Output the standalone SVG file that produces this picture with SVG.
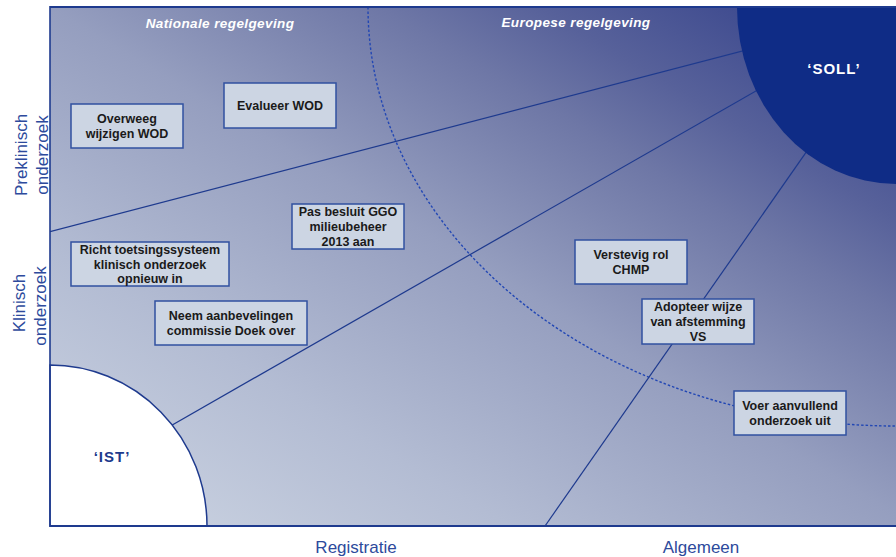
<svg xmlns="http://www.w3.org/2000/svg" width="896" height="557" viewBox="0 0 896 557">
  <defs>
    <linearGradient id="bg" gradientUnits="userSpaceOnUse" x1="-208" y1="348" x2="233" y2="-390">
      <stop offset="0" stop-color="#ccd4e2"/>
      <stop offset="0.251" stop-color="#b3bcd3"/>
      <stop offset="0.493" stop-color="#959ebf"/>
      <stop offset="0.691" stop-color="#6e77a6"/>
      <stop offset="0.787" stop-color="#57619a"/>
      <stop offset="1" stop-color="#2e3c88"/>
    </linearGradient>
    <clipPath id="plot"><rect x="50" y="7" width="846" height="519"/></clipPath>
  </defs>
  <style>
    .box rect { fill: #ccd5e3; stroke: #3050a0; stroke-width: 1.5; }
    .box text { font-family: "Liberation Sans", Arial, sans-serif; font-weight: bold; font-size: 12.5px; fill: #1a1a1a; text-anchor: middle; }
    .ray { stroke: #1e3a8e; stroke-width: 1.2; fill: none; }
    .dash { stroke: #2247b4; stroke-width: 1.4; stroke-dasharray: 2.5 2; fill: none; }
    .border { stroke: #1e3a8e; fill: none; }
    .head { font-family: "Liberation Sans", Arial, sans-serif; font-weight: bold; font-style: italic; font-size: 13.5px; fill: #ffffff; text-anchor: middle; letter-spacing: 0.4px; }
    .axis { font-family: "Liberation Sans", Arial, sans-serif; font-size: 17px; fill: #2d4a9c; text-anchor: middle; }
    .big { font-family: "Liberation Sans", Arial, sans-serif; font-weight: bold; font-size: 15px; text-anchor: middle; letter-spacing: 1px; }
  </style>

  <rect x="50" y="7" width="846" height="519" fill="url(#bg)"/>

  <g id="connectors" clip-path="url(#plot)">
    <path class="dash" d="M 368 7 A 528 419 0 0 0 896 426"/>
    <line class="ray" x1="50" y1="231.7" x2="770" y2="43.7"/>
    <line class="ray" x1="150" y1="437.7" x2="770" y2="83"/>
    <line class="ray" x1="545" y1="526" x2="820" y2="132.4"/>
  </g>

  <g id="soll">
    <path d="M 737 7 A 159 177 0 0 0 896 184 L 896 7 Z" fill="#0f2c86"/>
    <text class="big" x="834" y="74" fill="#ffffff">‘SOLL’</text>
  </g>

  <g id="ist">
    <path d="M 50 365 A 157 161 0 0 1 207 526 L 50 526 Z" fill="#ffffff" stroke="#1e3a8e" stroke-width="1.5"/>
    <text class="big" x="112" y="462" fill="#1c3a8c">‘IST’</text>
  </g>

  <g id="n1" class="box">
    <rect x="71" y="104" width="112" height="44"/>
    <text x="127" y="123.1">Overweeg</text>
    <text x="127" y="137.9">wijzigen WOD</text>
  </g>
  <g id="n2" class="box">
    <rect x="224" y="83" width="112" height="45"/>
    <text x="280" y="110.2">Evalueer WOD</text>
  </g>
  <g id="n3" class="box">
    <rect x="292" y="204" width="112" height="45"/>
    <text x="348" y="216">Pas besluit GGO</text>
    <text x="348" y="230.8">milieubeheer</text>
    <text x="348" y="245.6">2013 aan</text>
  </g>
  <g id="n4" class="box">
    <rect x="71" y="242" width="158" height="44"/>
    <text x="150" y="253.7">Richt toetsingssysteem</text>
    <text x="150" y="268.5">klinisch onderzoek</text>
    <text x="150" y="283.3">opnieuw in</text>
  </g>
  <g id="n5" class="box">
    <rect x="155" y="301" width="152" height="44"/>
    <text x="231" y="320.1">Neem aanbevelingen</text>
    <text x="231" y="334.9">commissie Doek over</text>
  </g>
  <g id="n6" class="box">
    <rect x="575" y="240" width="112" height="44"/>
    <text x="631" y="259.1">Verstevig rol</text>
    <text x="631" y="273.9">CHMP</text>
  </g>
  <g id="n7" class="box">
    <rect x="642" y="299" width="112" height="45"/>
    <text x="698" y="311.2">Adopteer wijze</text>
    <text x="698" y="326">van afstemming</text>
    <text x="698" y="340.8">VS</text>
  </g>
  <g id="n8" class="box">
    <rect x="734" y="391" width="112" height="44"/>
    <text x="790" y="410.1">Voer aanvullend</text>
    <text x="790" y="424.9">onderzoek uit</text>
  </g>

  <g id="frame">
    <line class="border" x1="50" y1="7" x2="896" y2="7" stroke-width="2"/>
    <line class="border" x1="50" y1="6" x2="50" y2="527" stroke-width="1.6"/>
    <line class="border" x1="50" y1="526" x2="896" y2="526" stroke-width="2"/>
  </g>

  <g id="labels">
    <text class="head" x="220" y="27.5">Nationale regelgeving</text>
    <text class="head" x="576" y="27">Europese regelgeving</text>
    <text class="axis" x="356" y="553">Registratie</text>
    <text class="axis" x="701" y="553">Algemeen</text>
    <text class="axis" transform="translate(26.5,155) rotate(-90)">Preklinisch</text>
    <text class="axis" transform="translate(47.5,155) rotate(-90)">onderzoek</text>
    <text class="axis" transform="translate(25,303) rotate(-90)">Klinisch</text>
    <text class="axis" transform="translate(46,306) rotate(-90)">onderzoek</text>
  </g>
</svg>
